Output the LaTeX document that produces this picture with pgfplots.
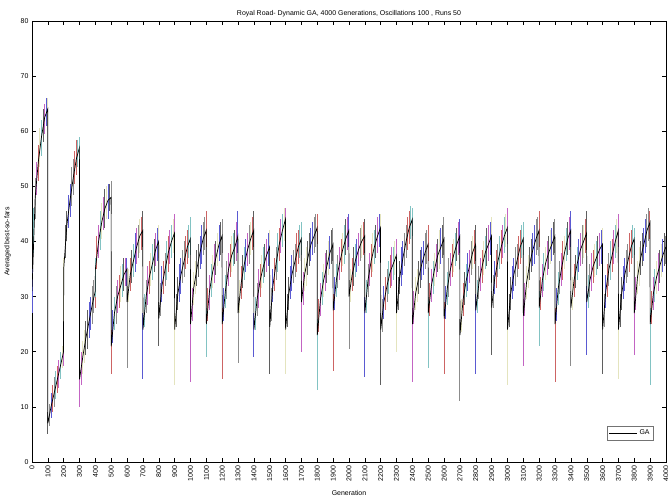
\documentclass[border=0pt]{standalone}
\usepackage{fontspec}
\setmainfont{Liberation Sans}
\usepackage{pgfplots}
\usepackage{pgfplotstable}
\pgfplotsset{compat=1.18}

\definecolor{barc0}{RGB}{90,90,210}
\definecolor{barc1}{RGB}{140,140,140}
\definecolor{barc2}{RGB}{205,100,100}
\definecolor{barc3}{RGB}{130,195,195}
\definecolor{barc4}{RGB}{195,100,195}
\definecolor{barc5}{RGB}{228,228,190}
\definecolor{barc6}{RGB}{95,95,95}
\newcommand\ff{\fontsize{7}{8.4}\selectfont}

% generation, mean best-so-far, error up, error down
\pgfplotstableread{
g m ep em
0 31 4 4
20 48 3.5 4
40 54.5 3 3.5
60 59 3 3.5
80 62.5 2.5 3
99 64 2 3
100 7 2 2
120 10 2.5 2
140 12.5 3 2.5
160 15 2.5 2.5
180 17.5 2.5 2.5
199 20 2 2.5
200 35 2 15
220 43 2.5 3
240 47.5 3 3
260 51.5 3.5 3
280 55 3.5 3
299 57 2 3
300 15 2 5
320 19 3 3
340 22.5 3 3
360 25.5 3.5 3
380 28.5 3.5 3.5
399 31 2 3
400 35 2 5
420 40 3 3
440 43.5 3.5 3
460 46 3.5 3.5
480 47.5 3 3.5
499 48 3 3
500 21 3 5
520 27 3 3
540 30 3 3
560 32 3.5 3
580 34 3 3
599 35 2 3
600 29 3 12
620 34 3 3
640 36.5 3 3
660 39 3.5 3
680 41 3 3
699 42 3.5 3
700 24 3 9
720 30 3 3
740 33.5 3 3
760 36 3.5 3
780 38.5 3 3
799 40 3 3
800 26 3 5
820 32 3.5 3
840 35 3 3
860 38 3 3.5
880 40 3 3
899 41.5 3.5 3
900 24 3 10
920 30.5 3 3
940 34 3 3.5
960 36.5 3.5 3
980 39 3 3
999 40.5 4 3
1000 25 3 10.5
1020 31.5 3 3
1040 35 3.5 3
1060 38 3 3
1080 40.5 3 3
1099 42 3.5 3
1100 25 3 6
1120 31 3 3.5
1140 34.5 3 3
1160 37 3 3
1180 39.5 3.5 3
1199 41 3 3
1200 25 3 10
1220 31 3 3
1240 35 3 3
1260 37.5 3.5 3
1280 39 3 3
1299 41 4.5 3
1300 27 3 9
1320 32.5 3 3
1340 36 3 3
1360 38.5 3 3
1380 40.5 3 3
1399 42 3.5 3
1400 24 3 5
1420 29.5 3 3
1440 33 3 3
1460 35.5 3.5 3
1480 37.5 3 3
1499 39 3 3
1500 24.5 3 8.5
1520 32 3 3
1540 36 3 3
1560 39.5 3 3
1580 42 3 3
1599 44 2 3
1600 24 3 8
1620 30.5 3 3
1640 34 3.5 3
1660 36.5 3 3
1680 39 3 3
1699 40.5 3 3
1700 29 3 9
1720 34 3 3
1740 37 3 3
1760 39.5 3 3
1780 41 3.5 3
1799 42.5 2.5 3
1800 23 3 10
1820 29.5 3 3
1840 33 3 3
1860 35.5 3 3
1880 38 3 3
1899 39.5 3 3
1900 27.5 3 11
1920 33 3 3
1940 36 3 3
1960 38.5 3 3
1980 40.5 3.5 3
1999 42 3 3
2000 30 3 9.5
2020 34 3 3
2040 36.5 3 3
2060 38.5 3 3
2080 40 3 3
2099 41 3 3
2100 27 3 11.5
2120 33 3 3
2140 36.5 3 3
2160 39 3 3
2180 41 3.5 3
2199 42.5 2.5 3
2200 24 3 10
2220 29 3 3
2240 32 3 3
2260 34.5 3 3
2280 36 3 3
2299 37.5 3 3
2300 27 3 7
2320 33.5 3 3
2340 37 3 3
2360 40 3 3
2380 42.5 3 3
2399 44 2 3
2400 25 3 10.5
2420 30.5 3 3
2440 33.5 3 3
2460 36 3 3
2480 38 3.5 3
2499 39.5 3.5 3
2500 27 3 10
2520 32 3 3
2540 35 3 3
2560 37.5 3 3
2580 39 3.5 3
2599 40.5 4 3
2600 26 3 10
2620 31.5 3 3
2640 35 3 3
2660 37.5 3 3
2680 39.5 3 3
2699 41 3 3
2700 23 3 12
2720 29.5 3 3
2740 33 3 3
2760 35.5 3 3
2780 38 3 3
2799 39.5 3.5 3
2800 27.5 3 11.5
2820 32.5 3 3
2840 35.5 3 3
2860 38 3 3
2880 39.5 3.5 3
2899 41 3.5 3
2900 28 3 8.5
2920 33.5 3 3
2940 36.5 3 3
2960 39 3 3
2980 41 3.5 3
2999 42.5 3.5 3
3000 24 3 10
3020 30.5 3 3
3040 34 3 3
3060 36.5 3 3
3080 39 3 3
3099 40.5 3 3
3100 26.5 3 9
3120 32.5 3 3
3140 36 3 3
3160 38.5 3 3
3180 40.5 3.5 3
3199 42 3.5 3
3200 28 3 7
3220 33 3 3
3240 36 3 3
3260 38 3 3
3280 39.5 3 3
3299 41 3 3
3300 25 3 10.5
3320 31.5 3 3
3340 35 3 3
3360 38 3 3
3380 40.5 3 3
3399 42 3.5 3
3400 28 3 10.5
3420 33 3 3
3440 36 3 3
3460 38.5 3 3
3480 40 3 3
3499 41.5 4 3
3500 29 3 9.5
3520 33 3 3
3540 35.5 3 3
3560 37 3 3
3580 38.5 3 3
3599 39.5 3 3
3600 24 3 8
3620 31 3 3
3640 35 3 3
3660 37.5 3 3
3680 40 3 3
3699 42 3 3
3700 24 3 9
3720 30.5 3 3
3740 34 3 3
3760 36.5 3 3
3780 39 3 3
3799 40.5 2 3
3800 27 3 7.5
3820 33.5 3 3
3840 37 3 3
3860 39.5 3 3
3880 42 3 3
3899 43.5 2 3
3900 25 3 11
3920 30.5 3 3
3940 33.5 3 3
3960 35.5 3 3
3980 37.5 3 3
3999 39 2 3
}\gadata

% further spread bars between the points above
\pgfplotstableread{
g m e
10 42 4
30 51.5 3
50 57 3.5
70 61 3
90 63.5 2.5
110 8.5 2
130 11.5 2.5
150 14 2.5
170 16 2.5
190 19 2
210 40 3
230 45.5 3
250 50 3.5
270 53.5 3
290 56 2.5
310 17 3
330 21 3
350 24 3.5
370 27 3
390 30 3
410 38 3
430 42 3.5
450 45 3
470 47 3
490 48 2.5
510 24.5 3
530 28.5 3.5
550 31 3
570 33 3
590 34.5 2.5
610 32 3
630 35.5 3
650 38 3.5
670 40 3
690 41.5 3
710 27.5 3
730 32 3.5
750 35 3
770 37.5 3
790 39.5 3
810 29.5 3
830 33.5 3
850 36.5 3.5
870 39 3
890 41 3
910 27.5 3
930 32.5 3.5
950 35.5 3
970 38 3
990 40 3
1010 28.5 3
1030 33.5 3
1050 36.5 3
1070 39.5 3.5
1090 41.5 3
1110 28.5 3
1130 33 3
1150 36 3.5
1170 38.5 3
1190 40.5 3
1210 28.5 3
1230 33 3.5
1250 36.5 3
1270 38.5 3
1290 40 3.5
1310 30 3
1330 34.5 3
1350 37.5 3
1370 39.5 3.5
1390 41.5 3
1410 27 3
1430 31.5 3.5
1450 34.5 3
1470 36.5 3
1490 38.5 3
1510 28.5 3
1530 34 3
1550 38 3.5
1570 41 3
1590 43 3
1610 27.5 3
1630 32.5 3
1650 35.5 3
1670 38 3.5
1690 40 3
1710 31.5 3
1730 35.5 3.5
1750 38.5 3
1770 40.5 3
1790 42 3
1810 26.5 3
1830 31.5 3
1850 34.5 3.5
1870 37 3
1890 39 3
1910 30.5 3
1930 34.5 3
1950 37.5 3
1970 39.5 3.5
1990 41.5 3
2010 32 3
2030 35.5 3.5
2050 37.5 3
2070 39.5 3
2090 40.5 3
2110 30 3
2130 35 3
2150 38 3.5
2170 40 3
2190 42 3
2210 26.5 3
2230 30.5 3
2250 33.5 3
2270 35.5 3.5
2290 37 3
2310 30.5 3
2330 35.5 3.5
2350 38.5 3
2370 41.5 3
2390 43.5 3
2410 28 3
2430 32 3
2450 35 3.5
2470 37 3
2490 39 3
2510 29.5 3
2530 33.5 3
2550 36.5 3
2570 38.5 3.5
2590 40 3
2610 29 3
2630 33.5 3.5
2650 36.5 3
2670 38.5 3
2690 40.5 3
2710 26.5 3
2730 31.5 3
2750 34.5 3.5
2770 37 3
2790 39 3
2810 30 3
2830 34 3
2850 37 3
2870 39 3.5
2890 40.5 3
2910 31 3
2930 35 3.5
2950 38 3
2970 40 3
2990 42 3
3010 27.5 3
3030 32.5 3
3050 35.5 3.5
3070 38 3
3090 40 3
3110 29.5 3
3130 34.5 3
3150 37.5 3
3170 39.5 3.5
3190 41.5 3
3210 30.5 3
3230 34.5 3.5
3250 37 3
3270 39 3
3290 40.5 3
3310 28.5 3
3330 33.5 3
3350 36.5 3.5
3370 39.5 3
3390 41.5 3
3410 30.5 3
3430 34.5 3
3450 37.5 3
3470 39.5 3.5
3490 41 3
3510 31 3
3530 34.5 3.5
3550 36.5 3
3570 38 3
3590 39 3
3610 27.5 3
3630 33 3
3650 36.5 3.5
3670 39 3
3690 41 3
3710 27.5 3
3730 32.5 3
3750 35.5 3
3770 38 3.5
3790 40 3
3810 30.5 3
3830 35.5 3.5
3850 38.5 3
3870 41 3
3890 43 3
3910 28 3
3930 32 3
3950 34.5 3.5
3970 36.5 3
3990 38.5 3
}\gbars

\begin{document}
\begin{tikzpicture}
\begin{axis}[
  name=ax,
  scale only axis,
  width=634bp, height=441bp,
  xmin=0, xmax=4000, ymin=0, ymax=80,
  xtick={0,100,...,4000},
  ytick={0,10,...,80},
  tick align=inside,
  xtick pos=both, ytick pos=both,
  major tick length=4bp,
  tick style={black, line width=0.5bp},
  axis line style={black, line width=0.6bp},
  tick label style={font=\ff},
  xticklabel style={rotate=90, anchor=east},
  /pgf/number format/1000 sep={},
  /pgf/number format/assume math mode=true,
  title={Royal Road- Dynamic GA, 4000 Generations, Oscillations 100 , Runs 50},
  every axis title/.style={at={(0.5,1)}, anchor=south, yshift=4bp, inner sep=0pt, font=\ff},
  xlabel={Generation},
  ylabel={Averaged best-so-fars},
  every axis x label/.style={at={(axis description cs:0.5,-0.065)}, anchor=north, inner sep=0pt, font=\ff},
  every axis y label/.style={at={(axis description cs:-0.033,0.5)}, anchor=south, rotate=90, inner sep=0pt, font=\ff},
  legend style={at={(0.98,0.05)}, anchor=south east, draw=black!55, font=\ff, inner sep=1.5bp},
  legend cell align=left,
  legend image code/.code={\draw[#1] (0bp,0bp) -- (28bp,0bp);},
]
\pgfplotsinvokeforeach{0,...,6}{
  \addplot[draw=none, mark=none, forget plot,
    x filter/.expression={mod(\coordindex,7)==#1 ? x : nan},
    error bars/.cd, y dir=both, y explicit, error mark=none,
    error bar style={draw=barc#1, line width=1bp, solid}]
    table[x=g, y=m, y error plus=ep, y error minus=em] {\gadata};
  \addplot[draw=none, mark=none, forget plot,
    x filter/.expression={mod(\coordindex+3,7)==#1 ? x : nan},
    error bars/.cd, y dir=both, y explicit, error mark=none,
    error bar style={draw=barc#1, line width=1bp, solid}]
    table[x=g, y=m, y error=e] {\gbars};
}
\addplot[black, line width=0.7bp] table[x=g, y=m] {\gadata};
\addlegendentry{GA}
\end{axis}
\pgfresetboundingbox
\path ([shift={(-32bp,-39bp)}]ax.south west) rectangle ([shift={(2bp,21bp)}]ax.north east);
\end{tikzpicture}
\end{document}
